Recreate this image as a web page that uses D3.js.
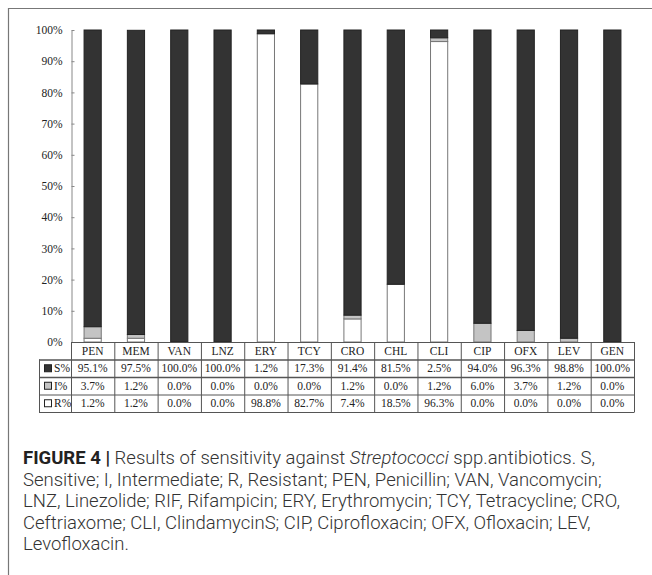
<html>
<head>
<meta charset="utf-8">
<title>Figure 4</title>
<style>
  body { margin: 0; background: #fff; }
  .tick text { font-family: "Liberation Serif", serif; font-size: 11.5px; fill: #222; }
  .cell { font-family: "Liberation Serif", serif; font-size: 11.5px; fill: #222; }
  .caption { font-family: Roboto, "Liberation Sans", sans-serif; font-size: 18.5px; font-weight: 300; fill: #333; }
</style>
</head>
<body>
<script src="https://cdn.jsdelivr.net/npm/d3@7"></script>
<script>
var categories = ["PEN", "MEM", "VAN", "LNZ", "ERY", "TCY", "CRO", "CHL", "CLI", "CIP", "OFX", "LEV", "GEN"];
var sValues = [95.1, 97.5, 100.0, 100.0, 1.2, 17.3, 91.4, 81.5, 2.5, 94.0, 96.3, 98.8, 100.0];
var iValues = [3.7, 1.2, 0.0, 0.0, 0.0, 0.0, 1.2, 0.0, 1.2, 6.0, 3.7, 1.2, 0.0];
var rValues = [1.2, 1.2, 0.0, 0.0, 98.8, 82.7, 7.4, 18.5, 96.3, 0.0, 0.0, 0.0, 0.0];
var yTicks = [0, 10, 20, 30, 40, 50, 60, 70, 80, 90, 100];
var seriesNames = ["S%", "I%", "R%"];

var width = 652, height = 575;

var svg = d3.select("body").append("svg")
    .attr("width", width)
    .attr("height", height);

// outer frame (top + left only)
svg.append("path")
    .attr("d", "M8.5,575V8.5H652")
    .attr("fill", "none")
    .attr("stroke", "#777")
    .attr("stroke-width", 1.2);

var x = d3.scaleBand()
    .domain(categories)
    .range([71, 634])
    .paddingInner(0.58)
    .paddingOuter(0.29);

var y = d3.scaleLinear()
    .domain([0, 100])
    .range([342, 30]);

// build rows for the stack
var table = categories.map(function (c, i) {
    return { cat: c, S: sValues[i], I: iValues[i], R: rValues[i] };
});
var stack = d3.stack().keys(["R", "I", "S"]);
var layers = stack(table);

var fill = { S: "#333", I: "#c4c4c4", R: "#fff" };
var stroke = { S: "#222", I: "#777", R: "#777" };

svg.selectAll("g.layer")
    .data(layers)
    .enter()
    .append("g")
    .attr("class", "layer")
    .attr("fill", function (d) { return fill[d.key]; })
    .attr("stroke", function (d) { return stroke[d.key]; })
    .selectAll("rect")
    .data(function (d) { return d.filter(function (p) { return p[1] - p[0] > 0; }); })
    .enter()
    .append("rect")
    .attr("x", function (d) { return x(d.data.cat) + 0.5; })
    .attr("width", x.bandwidth() - 1)
    .attr("y", function (d) { return y(d[1]); })
    .attr("height", function (d) { return y(d[0]) - y(d[1]); })
    .attr("stroke-width", 1);

// y axis, ticks point inward
var yAxis = d3.axisLeft(y)
    .tickValues(yTicks)
    .tickFormat(function (d) { return d + "%"; })
    .tickSizeInner(-3)
    .tickSizeOuter(0)
    .tickPadding(9);

var ag = svg.append("g")
    .attr("transform", "translate(71.5,0)")
    .call(yAxis);
ag.select(".domain").attr("stroke", "#888");
ag.selectAll(".tick line").attr("stroke", "#888");

// data table under the chart
var rowY = d3.scaleBand()
    .domain(["cat"].concat(seriesNames))
    .range([342, 412]);
var rh = rowY.bandwidth();
var step = x.step();
var colLeft = function (c) { return x(c) - (step - x.bandwidth()) / 2; };

var grid = svg.append("g")
    .attr("stroke", "#555")
    .attr("stroke-width", 1)
    .attr("fill", "none");

// horizontal lines
grid.append("line").attr("x1", 71).attr("x2", 634).attr("y1", rowY("cat") + 0.5).attr("y2", rowY("cat") + 0.5);
seriesNames.forEach(function (s) {
    grid.append("line")
        .attr("x1", 39).attr("x2", 634)
        .attr("y1", rowY(s) + 0.5).attr("y2", rowY(s) + 0.5)
        .attr("stroke-width", s === "R%" ? 1 : 1.6);
});
grid.append("line").attr("x1", 39).attr("x2", 634).attr("y1", 412.5).attr("y2", 412.5);

// vertical lines
grid.append("line").attr("x1", 39.5).attr("x2", 39.5).attr("y1", rowY("S%")).attr("y2", 412.5);
categories.forEach(function (c) {
    grid.append("line")
        .attr("x1", colLeft(c) + 0.5).attr("x2", colLeft(c) + 0.5)
        .attr("y1", 342).attr("y2", 412.5);
});
grid.append("line").attr("x1", 634.5).attr("x2", 634.5).attr("y1", 342).attr("y2", 412.5);

// category header
svg.selectAll("text.catlabel")
    .data(categories)
    .enter()
    .append("text")
    .attr("class", "cell catlabel")
    .attr("x", function (d) { return x(d) + x.bandwidth() / 2; })
    .attr("y", rowY("cat") + rh / 2 + 4)
    .attr("text-anchor", "middle")
    .text(function (d) { return d; });

// legend column
var legendFill = { "S%": fill.S, "I%": fill.I, "R%": fill.R };
var leg = svg.selectAll("g.leg")
    .data(seriesNames)
    .enter()
    .append("g")
    .attr("class", "leg")
    .attr("transform", function (d) { return "translate(44," + rowY(d) + ")"; });
leg.append("rect")
    .attr("x", 0.5).attr("y", rh / 2 - 3.5)
    .attr("width", 7).attr("height", 7)
    .attr("fill", function (d) { return legendFill[d]; })
    .attr("stroke", "#222");
leg.append("text")
    .attr("class", "cell")
    .attr("x", 10)
    .attr("y", rh / 2 + 4)
    .text(function (d) { return d; });

// values
var rowValues = { "S%": sValues, "I%": iValues, "R%": rValues };
seriesNames.forEach(function (s) {
    svg.selectAll("text.v" + s[0])
        .data(rowValues[s])
        .enter()
        .append("text")
        .attr("class", "cell v" + s[0])
        .attr("x", function (d, i) { return x(categories[i]) + x.bandwidth() / 2; })
        .attr("y", rowY(s) + rh / 2 + 4)
        .attr("text-anchor", "middle")
        .text(function (d) { return d.toFixed(1) + "%"; });
});

// caption
var cap = svg.append("text")
    .attr("class", "caption");
var l1 = cap.append("tspan").attr("x", 23).attr("y", 464);
l1.append("tspan").attr("font-weight", "bold").attr("fill", "#222").text("FIGURE 4 |");
l1.append("tspan").text(" Results of sensitivity against ");
l1.append("tspan").attr("font-style", "italic").text("Streptococci");
l1.append("tspan").text(" spp.antibiotics. S,");
var captionLines = [
    "Sensitive; I, Intermediate; R, Resistant; PEN, Penicillin; VAN, Vancomycin;",
    "LNZ, Linezolide; RIF, Rifampicin; ERY, Erythromycin; TCY, Tetracycline; CRO,",
    "Ceftriaxome; CLI, ClindamycinS; CIP, Ciprofloxacin; OFX, Ofloxacin; LEV,",
    "Levofloxacin."
];
captionLines.forEach(function (t, i) {
    cap.append("tspan").attr("x", 23).attr("y", 485.5 + i * 21.5).text(t);
});
</script>
</body>
</html>
